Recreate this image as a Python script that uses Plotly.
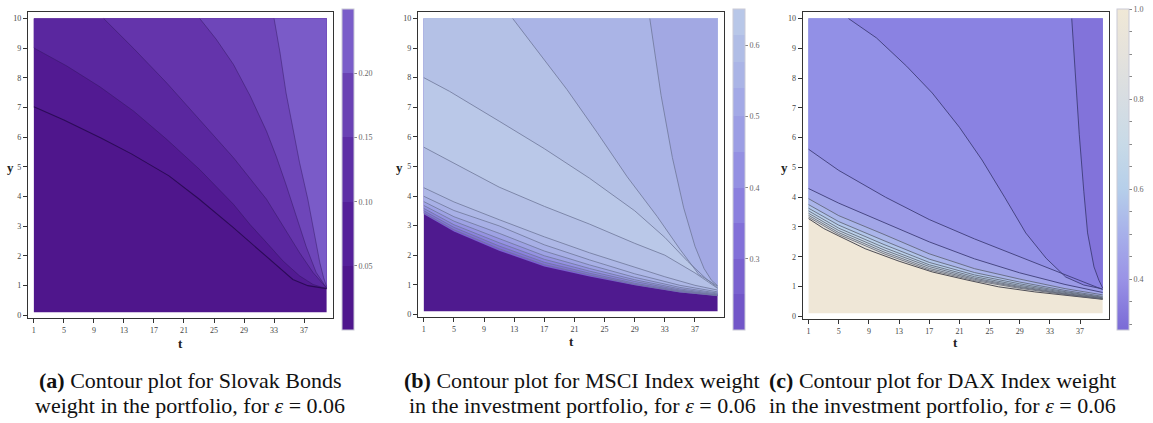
import plotly.graph_objects as go

# ---------------- data ----------------
T_MIN, T_MAX = 1, 40          # computed t-range of each contour grid
Y_MIN, Y_MAX = 0.1, 10        # computed y-range
X_TICKS = [1, 5, 9, 13, 17, 21, 25, 29, 33, 37]
Y_TICKS = [0, 1, 2, 3, 4, 5, 6, 7, 8, 9, 10]

# (a) Slovak bonds weight: contour lines, lowest -> highest
A1_T = [1, 5, 10, 14, 19, 23, 27.5, 30, 32, 34, 35.5, 37.5, 40]
A1_Y = [7.03, 6.58, 5.97, 5.44, 4.7, 3.92, 2.97, 2.42, 1.98, 1.52, 1.21, 1.0, 0.9]
A2_T = [1, 5.4, 9.8, 14.3, 18.7, 23.1, 27.6, 29.8, 32, 34.2, 36.4, 38.2, 40]
A2_Y = [9.01, 8.4, 7.7, 6.88, 5.93, 4.91, 3.74, 3.06, 2.45, 1.83, 1.33, 1.04, 0.9]
A3_T = [10.3, 14.3, 18.7, 23.1, 27.6, 32.0, 34.2, 36.4, 38.2, 39.3, 40]
A3_Y = [10, 8.99, 7.83, 6.6, 5.31, 3.91, 3.01, 2.11, 1.44, 1.10, 0.92]
A4_T = [23.1, 25.3, 27.6, 29.8, 32.0, 33.3, 34.6, 36.0, 37.3, 38.6, 39.5, 40]
A4_Y = [10, 9.3, 8.45, 7.4, 6.2, 5.35, 4.4, 3.3, 2.3, 1.45, 1.1, 0.92]
A5_T = [33.0, 33.8, 34.6, 35.5, 36.4, 37.5, 38.4, 39.1, 39.6, 40]
A5_Y = [10, 8.84, 7.49, 6.26, 5.14, 3.91, 2.67, 1.77, 1.27, 0.97]
A_BAR_EDGES = [0, 0.05, 0.10, 0.15, 0.20, 0.25]
A_BAR_TICKS = [0.05, 0.10, 0.15, 0.20]

# (b) MSCI index weight
BT = [1, 5, 11, 17, 23, 29, 35, 40]
B0_Y = [3.38, 2.8, 2.15, 1.62, 1.28, 0.98, 0.74, 0.62]
B1_Y = [3.43, 2.86, 2.22, 1.68, 1.33, 1.01, 0.76, 0.63]
B2_Y = [3.5, 2.94, 2.31, 1.76, 1.39, 1.05, 0.79, 0.65]
B3_Y = [3.58, 3.03, 2.42, 1.86, 1.46, 1.11, 0.82, 0.66]
B4_Y = [3.68, 3.15, 2.56, 1.98, 1.55, 1.17, 0.86, 0.69]
B5_Y = [3.81, 3.3, 2.74, 2.14, 1.67, 1.25, 0.91, 0.72]
B6_Y = [3.99, 3.51, 2.99, 2.35, 1.84, 1.37, 0.98, 0.76]
B7_T = [1, 5, 11, 17, 23, 29, 33, 37, 40]
B7_Y = [4.28, 3.8, 3.2, 2.62, 2.08, 1.58, 1.27, 0.98, 0.82]
B8_T = [1, 5, 11, 17, 23, 29, 33, 37, 40]
B8_Y = [5.65, 5.1, 4.3, 3.65, 3.05, 2.4, 2.0, 1.4, 0.88]
B9_T = [1, 4.4, 11, 17, 23, 29, 33, 36, 38.5, 40]
B9_Y = [8.0, 7.54, 6.53, 5.6, 4.6, 3.5, 2.6, 1.8, 1.2, 0.9]
B10_T = [12.8, 16, 20, 24, 28, 32, 35, 37.5, 40]
B10_Y = [10, 8.95, 7.6, 6.15, 4.65, 3.3, 2.2, 1.35, 0.95]
B11_T = [31, 32.5, 34, 35.5, 37, 38.2, 39.2, 40]
B11_Y = [10, 7.4, 5.3, 3.6, 2.3, 1.55, 1.15, 0.97]
B_BAR_EDGES = [0.2, 0.25, 0.3, 0.35, 0.4, 0.45, 0.5, 0.54, 0.577, 0.615, 0.651]
B_BAR_TICKS = [0.3, 0.4, 0.5, 0.6]

# (c) DAX index weight
CT = [1, 5, 11, 17, 23, 29, 35, 40]
C0_T = [1, 3, 5, 8.5, 13, 17.4, 22, 26.2, 31, 35.1, 38, 40]
C0_Y = [3.28, 2.95, 2.7, 2.27, 1.85, 1.49, 1.22, 0.99, 0.82, 0.71, 0.62, 0.57]
C1_Y = [3.33, 2.75, 2.1, 1.56, 1.2, 0.94, 0.73, 0.58]
C2_Y = [3.39, 2.81, 2.16, 1.61, 1.24, 0.97, 0.75, 0.59]
C3_Y = [3.46, 2.88, 2.23, 1.67, 1.28, 1.0, 0.77, 0.6]
C4_Y = [3.54, 2.96, 2.31, 1.73, 1.33, 1.04, 0.8, 0.62]
C5_Y = [3.63, 3.06, 2.41, 1.81, 1.39, 1.09, 0.83, 0.64]
C6_Y = [3.75, 3.18, 2.54, 1.92, 1.47, 1.15, 0.87, 0.67]
C7_Y = [3.95, 3.38, 2.75, 2.1, 1.6, 1.25, 0.93, 0.72]
C8_Y = [4.29, 3.8, 3.15, 2.5, 1.93, 1.46, 1.07, 0.8]
C9_T = [1, 5, 11.2, 17, 23, 29, 35, 40]
C9_Y = [5.61, 4.9, 4.0, 3.25, 2.6, 2.0, 1.4, 0.9]
C10_T = [6.3, 10, 14, 17.4, 21, 24, 27, 29.8, 32.5, 35.1, 37.5, 40]
C10_Y = [10, 9.35, 8.4, 7.5, 6.35, 5.25, 4.0, 2.8, 1.95, 1.32, 1.05, 0.92]
C11_T = [35.9, 36.9, 37.5, 38.0, 38.85, 39.5, 40]
C11_Y = [10, 6.1, 4.2, 2.8, 1.66, 1.21, 0.95]
C_BAR_RANGE = [0.287, 1.0]
C_BAR_TICKS = [0.4, 0.6, 0.8, 1.0]
C_BAR_MINOR = [0.3, 0.35, 0.45, 0.5, 0.55, 0.65, 0.7, 0.75, 0.85, 0.9, 0.95]

CAPTIONS = [
    ("<b>(a)</b> Contour plot for Slovak Bonds", "weight in the portfolio, for <i>ε</i> = 0.06"),
    ("<b>(b)</b> Contour plot for MSCI Index weight", "in the investment portfolio, for <i>ε</i> = 0.06"),
    ("<b>(c)</b> Contour plot for DAX Index weight", "in the investment portfolio, for <i>ε</i> = 0.06"),
]

# ---------------- styles ----------------
A_LINES = [(A1_T, A1_Y), (A2_T, A2_Y), (A3_T, A3_Y), (A4_T, A4_Y), (A5_T, A5_Y)]
A_FILLS = ["#4f168c", "#521a92", "#5a279f", "#6434ab", "#6e46b9", "#7a5bc8"]
A_STROKES = [("#2c0b58", 1.1)] + [("rgba(45,20,90,0.55)", 0.8)] * 4
A_BAR_COLORS = ["#4f178d", "#55209a", "#5e2fa6", "#6a42b4", "#7a5dc9"]

B_LINES = [(BT, B0_Y), (BT, B1_Y), (BT, B2_Y), (BT, B3_Y), (BT, B4_Y), (BT, B5_Y),
           (BT, B6_Y), (B7_T, B7_Y), (B8_T, B8_Y), (B9_T, B9_Y), (B10_T, B10_Y), (B11_T, B11_Y)]
B_FILLS = ["#4f1a8f", "#7a60cf", "#8271d8", "#8b82de", "#9592e2", "#9ea2e4", "#a8b0e6",
           "#aeb8e6", "#b4c0e6", "#bac8e8", "#b4c1e6", "#aab4e6", "#a2a8e3"]
B_STROKES = [None] + [("#6f7799", 0.8)] * 11
B_BAR_COLORS = ["#7256c8", "#7a62cf", "#8270d8", "#8b80de", "#9490e2", "#9c9ee4",
                "#a3a9e6", "#aab4e6", "#b0bde6", "#b8c7e8"]

C_LINES = [(C0_T, C0_Y), (CT, C1_Y), (CT, C2_Y), (CT, C3_Y), (CT, C4_Y), (CT, C5_Y),
           (CT, C6_Y), (CT, C7_Y), (CT, C8_Y), (C9_T, C9_Y), (C10_T, C10_Y), (C11_T, C11_Y)]
C_FILLS = ["#efe7d7", "#e4e2dc", "#d9dee2", "#cddae6", "#c3d6e9", "#bbd1ea", "#b2c6ea",
           "#aab5ea", "#a2a6e8", "#9b9ae7", "#9290e6", "#8a82e2", "#8273da"]
C_STROKES = [("#3c3c46", 0.9)] + [("#5a5f70", 0.8)] * 7 + [("#3e3d78", 0.9)] * 4
C_SCALE = [[0.0, "#7a6ad6"], [0.16, "#9a93e6"], [0.3, "#a7b0ea"], [0.44, "#b6cfea"],
           [0.58, "#c8dae7"], [0.72, "#d7dde2"], [0.86, "#e5e2dc"], [1.0, "#f0e8d6"]]

FRAMES = [  # x-domain, y-domain of each framed plot (paper)
    ([0.0243, 0.2888], [0.2482, 0.9716]),
    ([0.3625, 0.6279], [0.2506, 0.9716]),
    ([0.6962, 0.9619], [0.2459, 0.9716]),
]
X_RANGE = [0.22, 40.85]
Y_RANGE = [-0.09, 10.22]
BAR_X = [0.2966, 0.6357, 0.9688]
SERIF = "Liberation Serif, Times New Roman, serif"

fig = go.Figure()


def above_polygon(t, y):
    if y[0] >= Y_MAX:
        return list(t) + [T_MAX], list(y) + [Y_MAX]
    return list(t) + [T_MAX, T_MIN], list(y) + [Y_MAX, Y_MAX]


def band_scale(edges, colors):
    lo, hi = edges[0], edges[-1]
    sc = []
    for i, c in enumerate(colors):
        sc.append([(edges[i] - lo) / (hi - lo), c])
        sc.append([(edges[i + 1] - lo) / (hi - lo), c])
    return sc


def add_panel(k, lines, fills, strokes):
    xa = "x" if k == 0 else f"x{k+1}"
    ya = "y" if k == 0 else f"y{k+1}"
    fig.add_trace(go.Scatter(x=[T_MIN, T_MAX, T_MAX, T_MIN], y=[Y_MIN, Y_MIN, Y_MAX, Y_MAX],
                             fill="toself", fillcolor=fills[0], mode="lines", line=dict(width=0),
                             xaxis=xa, yaxis=ya, hoverinfo="skip", showlegend=False))
    for (t, y), fc in zip(lines, fills[1:]):
        pt, py = above_polygon(t, y)
        fig.add_trace(go.Scatter(x=pt, y=py, fill="toself", fillcolor=fc, mode="lines",
                                 line=dict(width=0), xaxis=xa, yaxis=ya,
                                 hoverinfo="skip", showlegend=False))
    for (t, y), st in zip(lines, strokes):
        if st is None:
            continue
        fig.add_trace(go.Scatter(x=t, y=y, mode="lines", line=dict(color=st[0], width=st[1]),
                                 xaxis=xa, yaxis=ya, hoverinfo="skip", showlegend=False))


add_panel(0, A_LINES, A_FILLS, A_STROKES)
add_panel(1, B_LINES, B_FILLS, B_STROKES)
add_panel(2, C_LINES, C_FILLS, C_STROKES)

bars = [
    (A_BAR_EDGES[0], A_BAR_EDGES[-1], band_scale(A_BAR_EDGES, A_BAR_COLORS), A_BAR_TICKS,
     [f"{v:.2f}" for v in A_BAR_TICKS]),
    (B_BAR_EDGES[0], B_BAR_EDGES[-1], band_scale(B_BAR_EDGES, B_BAR_COLORS), B_BAR_TICKS,
     [f"{v:.1f}" for v in B_BAR_TICKS]),
    (C_BAR_RANGE[0], C_BAR_RANGE[1], C_SCALE, C_BAR_TICKS + C_BAR_MINOR,
     [f"{v:.1f}" for v in C_BAR_TICKS] + [""] * len(C_BAR_MINOR)),
]
for k, (lo, hi, sc, tv, tt) in enumerate(bars):
    xa = "x" if k == 0 else f"x{k+1}"
    ya = "y" if k == 0 else f"y{k+1}"
    fig.add_trace(go.Scatter(
        x=[None], y=[None], mode="markers", xaxis=xa, yaxis=ya, showlegend=False,
        hoverinfo="skip",
        marker=dict(color=[lo], cmin=lo, cmax=hi, colorscale=sc, showscale=True,
                    colorbar=dict(x=BAR_X[k], xanchor="left", y=0.599, yanchor="middle",
                                  len=0.76, lenmode="fraction", thickness=12, xpad=0, ypad=0,
                                  outlinecolor="#c9c9d6", outlinewidth=1,
                                  ticks="outside", ticklen=3, tickcolor="#888",
                                  tickvals=tv, ticktext=tt,
                                  tickfont=dict(family=SERIF, size=8, color="#666")))))

layout = dict(
    width=1153, height=423, margin=dict(l=0, r=0, t=0, b=0, autoexpand=False),
    paper_bgcolor="white", plot_bgcolor="white", showlegend=False,
)
for k, (dx, dy) in enumerate(FRAMES):
    sx = "" if k == 0 else str(k + 1)
    common = dict(ticks="outside", ticklen=4, tickcolor="#333", showgrid=False, zeroline=False,
                  showline=True, mirror=True, linecolor="#333", linewidth=1.3,
                  tickfont=dict(family=SERIF, size=8, color="#444"), fixedrange=True,
                  automargin=False)
    layout[f"xaxis{sx}"] = dict(domain=dx, range=X_RANGE, tickvals=X_TICKS,
                                anchor=f"y{sx}", **common)
    layout[f"yaxis{sx}"] = dict(domain=dy, range=Y_RANGE, tickvals=Y_TICKS,
                                anchor=f"x{sx}", **common)
fig.update_layout(**layout)

AXIS_TITLE_POS = [((10, 167), (180, 343)), ((399, 167), (571, 341)), ((784, 167), (955, 342))]
for (yp, tp) in AXIS_TITLE_POS:
    fig.add_annotation(x=yp[0] / 1153, y=1 - yp[1] / 423, xref="paper", yref="paper",
                       text="<b>y</b>", showarrow=False, xanchor="center", yanchor="middle",
                       font=dict(family=SERIF, size=13, color="#222"))
    fig.add_annotation(x=tp[0] / 1153, y=1 - tp[1] / 423, xref="paper", yref="paper",
                       text="<b>t</b>", showarrow=False, xanchor="center", yanchor="middle",
                       font=dict(family=SERIF, size=13, color="#222"))

CAPTION_X = [190, 582, 942]
for cx, (l1, l2) in zip(CAPTION_X, CAPTIONS):
    fig.add_annotation(x=cx / 1153, y=1 - 380 / 423, xref="paper", yref="paper", text=l1,
                       showarrow=False, xanchor="center", yanchor="middle",
                       font=dict(family=SERIF, size=22, color="#111"))
    fig.add_annotation(x=cx / 1153, y=1 - 405 / 423, xref="paper", yref="paper", text=l2,
                       showarrow=False, xanchor="center", yanchor="middle",
                       font=dict(family=SERIF, size=22, color="#111"))

fig.write_html("out.html")
